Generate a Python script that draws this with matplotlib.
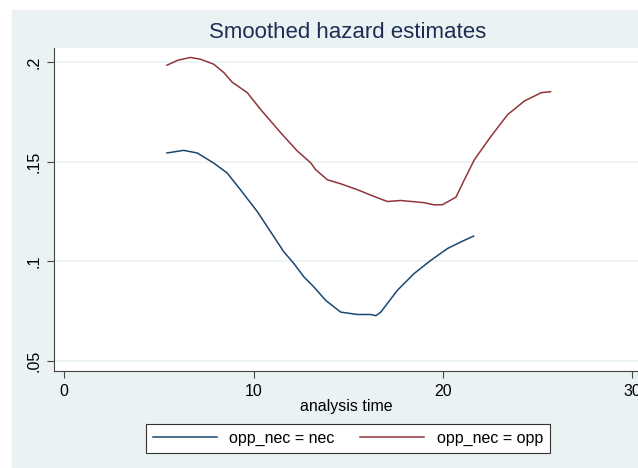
import matplotlib.pyplot as plt

# smoothed hazard, group opp_nec = nec
nec_time = [5.43, 6.31, 7.02, 7.90, 8.61, 9.31, 10.20, 10.90, 11.60, 12.13,
            12.66, 13.19, 13.81, 14.60, 15.49, 16.19, 16.46, 16.72, 17.60,
            18.48, 19.37, 20.25, 20.95, 21.62]
nec_hazard = [0.1544, 0.1557, 0.1544, 0.1493, 0.1443, 0.1359, 0.1249, 0.1148,
              0.1047, 0.0988, 0.0921, 0.0870, 0.0803, 0.0744, 0.0732, 0.0732,
              0.0726, 0.0744, 0.0854, 0.0938, 0.1005, 0.1064, 0.1097, 0.1126]

# smoothed hazard, group opp_nec = opp
opp_time = [5.43, 6.00, 6.67, 7.20, 7.90, 8.43, 8.87, 9.67, 10.37, 11.43,
            12.31, 13.02, 13.28, 13.90, 14.60, 15.49, 16.37, 17.07, 17.78,
            19.01, 19.54, 19.98, 20.69, 21.13, 21.66, 22.54, 23.42, 24.30,
            25.19, 25.68]
opp_hazard = [0.1985, 0.2010, 0.2024, 0.2015, 0.1990, 0.1948, 0.1900, 0.1847,
              0.1763, 0.1646, 0.1554, 0.1494, 0.1460, 0.1409, 0.1389, 0.1359,
              0.1325, 0.1300, 0.1305, 0.1294, 0.1283, 0.1284, 0.1322, 0.1409,
              0.1510, 0.1628, 0.1737, 0.1805, 0.1847, 0.1852]

x_ticks = [0, 10, 20, 30]
y_ticks = [0.05, 0.1, 0.15, 0.2]
y_labels = [".05", ".1", ".15", ".2"]

plt.rcParams["font.family"] = ["Liberation Sans", "DejaVu Sans"]

bg = "#EAF2F3"
fig = plt.figure(figsize=(6.38, 4.68), dpi=100)
fig.patch.set_facecolor("white")
# graph region (white margin on the left and top)
fig.patches.append(plt.Rectangle((12 / 638, 0), 1, 1 - 10 / 468,
                                 transform=fig.transFigure, color=bg, zorder=-10))

ax = fig.add_axes([54.3 / 638, 97 / 468, 1 - 54.3 / 638, 322.7 / 468])
ax.set_facecolor("white")

ax.plot(nec_time, nec_hazard, color="#1A476F", lw=1.1, label="opp_nec = nec")
ax.plot(opp_time, opp_hazard, color="#90353B", lw=1.1, label="opp_nec = opp")

ax.set_xlim(-0.52, 30.3)
ax.set_ylim(0.0448, 0.2070)
ax.set_xticks(x_ticks)
ax.set_yticks(y_ticks)
ax.set_yticklabels(y_labels, rotation=90, va="center")
ax.tick_params(labelsize=11.5, length=5, width=0.8, color="#444444", pad=4)
ax.grid(axis="y", color=bg, lw=1.2)
ax.set_axisbelow(True)
for side in ["top", "right"]:
    ax.spines[side].set_visible(False)
for side in ["left", "bottom"]:
    ax.spines[side].set_color("#444444")
    ax.spines[side].set_linewidth(0.8)

ax.set_xlabel("analysis time", fontsize=11.5, labelpad=0)

fig.text(348 / 638, 1 - 32 / 468, "Smoothed hazard estimates",
         ha="center", va="center", fontsize=16, color="#1E2D53")

leg = fig.legend(loc="center", bbox_to_anchor=(348 / 638, 1 - 438.5 / 468),
                 ncol=2, fontsize=11.5, frameon=True, fancybox=False,
                 handlelength=4.0, columnspacing=1.6, borderpad=0.45,
                 handletextpad=0.8)
leg.get_frame().set_edgecolor("#333333")
leg.get_frame().set_linewidth(0.8)
leg.get_frame().set_facecolor("white")
leg.get_frame().set_alpha(1)

fig.savefig("out.png", dpi=100, facecolor=fig.get_facecolor())
